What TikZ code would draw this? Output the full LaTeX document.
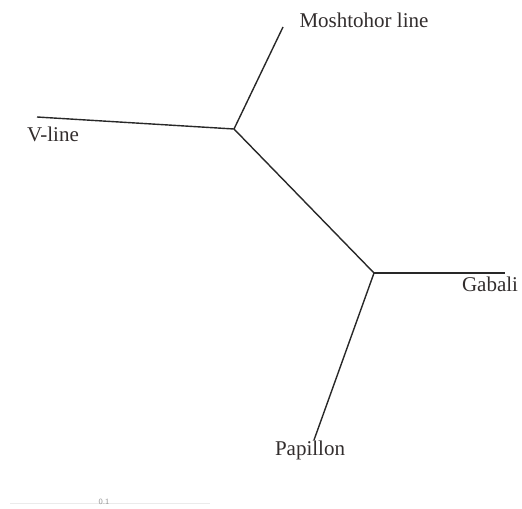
\documentclass[tikz,border=0pt]{standalone}
\usepackage{fontspec}
\setmainfont{Liberation Serif}

\tikzset{every picture/.style={line width=0.75pt}}
\tikzset{branch/.style={draw={rgb, 255:red, 40; green, 40; blue, 40}, line width=0.7pt},
  leaflabel/.style={font=\fontsize{10.5}{12}\selectfont, text={rgb, 255:red, 50; green, 45; blue, 45}, inner sep=0pt}}

\begin{document}
\begin{tikzpicture}[x=0.5pt,y=0.5pt,yscale=-1,xscale=1]
\useasboundingbox (0,0) rectangle (522,508);

%Internal nodes
\coordinate (na) at (234,129);
\coordinate (nb) at (374,273);
%Leaf tips
\coordinate (tmosh) at (283,27);
\coordinate (tvline) at (37,117);
\coordinate (tgabali) at (505,273);
\coordinate (tpapillon) at (314,440);

%Straight Lines
\draw [branch] (na) -- (tmosh) ;
\draw [branch] (na) -- (tvline) ;
\draw [branch] (na) -- (nb) ;
\draw [branch] (nb) -- (tgabali) ;
\draw [branch] (nb) -- (tpapillon) ;

% Text Node
\draw (364,20) node [leaflabel] (lmosh) {Moshtohor line};
% Text Node
\draw (53,134) node [leaflabel] (lvline) {V-line};
% Text Node
\draw (490,284) node [leaflabel] (lgabali) {Gabali};
% Text Node
\draw (310,450) node [leaflabel] (lpapillon) {Papillon};

%Scale bar
\coordinate (sba) at (10,503);
\coordinate (sbb) at (210,503);
\draw [color={rgb, 255:red, 235; green, 235; blue, 235}, line width=0.4pt] (sba) -- (sbb) ;
\draw (104,502) node [font=\fontsize{4}{5}\sffamily, text={rgb, 255:red, 150; green, 150; blue, 150}, inner sep=0pt] (lscale) {0.1};

\end{tikzpicture}
\end{document}
